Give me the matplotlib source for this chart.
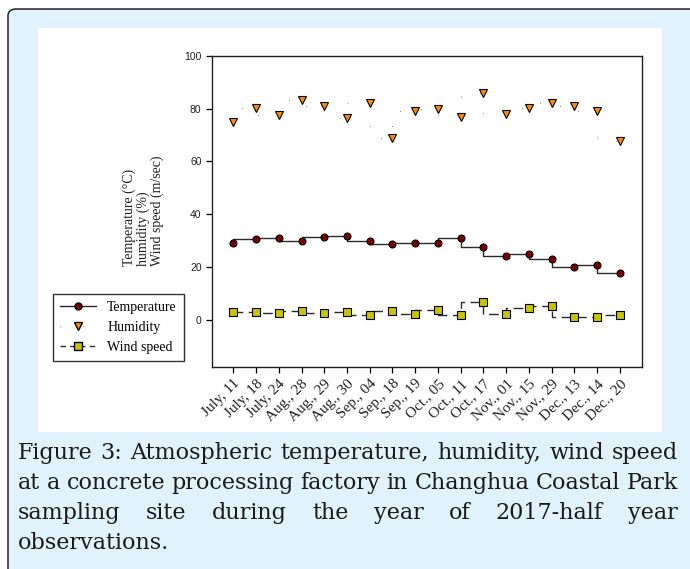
import matplotlib.pyplot as plt
from matplotlib.patches import FancyBboxPatch, Rectangle
from matplotlib.lines import Line2D

dates = ["July, 11", "July, 18", "July, 24", "Aug., 28", "Aug., 29", "Aug., 30",
         "Sep., 04", "Sep., 18", "Sep., 19", "Oct., 05", "Oct., 11", "Oct., 17",
         "Nov., 01", "Nov., 15", "Nov., 29", "Dec., 13", "Dec., 14", "Dec., 20"]
temperature = [29.1, 30.8, 31.1, 29.8, 31.4, 31.8, 30.0, 28.9, 29.1,
               29.1, 30.9, 27.5, 24.1, 24.8, 23.0, 20.2, 20.7, 17.9]
humidity = [74.8, 80.2, 77.6, 83.1, 81.1, 76.4, 82.0, 69.0, 79.0,
            79.8, 76.7, 86.0, 78.1, 80.2, 82.1, 81.1, 79.1, 67.7]
wind_speed = [2.9, 2.9, 2.5, 3.3, 2.6, 2.9, 2.0, 3.3, 2.1,
              3.7, 2.0, 6.6, 2.4, 4.4, 5.3, 1.1, 1.1, 2.0]
y_ticks = [0, 20, 40, 60, 80, 100]
caption_lines = [
    "Figure 3: Atmospheric temperature, humidity, wind speed",
    "at a concrete processing factory in Changhua Coastal Park",
    "sampling site during the year of 2017-half year",
    "observations.",
]

W, H = 690, 569
fig = plt.figure(figsize=(W / 100, H / 100), dpi=100)


def fx(px):
    return px / W


def fy(py):
    return 1 - py / H


# light blue card with rounded border, white panel for the chart
card = FancyBboxPatch((fx(8), fy(620)), fx(720), (620 - 9) / H,
                      boxstyle="round,pad=0,rounding_size=0.012",
                      transform=fig.transFigure, facecolor="#e0f2fc",
                      edgecolor="#333333", linewidth=1.2, zorder=0)
fig.patches.append(card)
panel = Rectangle((fx(38), fy(432)), fx(662 - 38), (432 - 28) / H,
                  transform=fig.transFigure, facecolor="white",
                  edgecolor="none", zorder=0.5)
fig.patches.append(panel)

ax = fig.add_axes([fx(212), fy(366.7), fx(642 - 212), (366.7 - 55.7) / H])
ax.set_zorder(2)
x = list(range(len(dates)))

ax.plot(x, temperature, drawstyle="steps-pre", color="#2b2b2b", lw=1)
ax.plot(x, temperature, "o", ms=5, mfc="#7a0000", mec="black", mew=0.8)

ax.plot(x, humidity, drawstyle="steps-pre", color="#555555", lw=0.8,
        linestyle=(0, (0.6, 20)))
ax.plot(x, humidity, "v", ms=5.5, mfc="#ff8c00", mec="black", mew=0.8)

ax.plot(x, wind_speed, drawstyle="steps-pre", color="#2b2b2b", lw=1,
        linestyle=(0, (7, 4)))
ax.plot(x, wind_speed, "s", ms=5.2, mfc="#c8c400", mec="black", mew=0.8)

ax.set_xlim(-0.94, 17.98)
ax.set_ylim(-17.7, 100)
ax.set_yticks(y_ticks)
ax.set_yticklabels([str(v) for v in y_ticks], family="Liberation Sans",
                   fontsize=7.5, color="#222222")
ax.set_xticks(x)
ax.set_xticklabels(dates, rotation=45, ha="right", rotation_mode="anchor",
                   family="Liberation Serif", fontsize=11, color="#222222")
ax.tick_params(direction="out", length=4, width=0.9)
for s in ax.spines.values():
    s.set_linewidth(1)
    s.set_color("#222222")

fig.text(fx(143), fy(211), "Temperature (°C)\nhumidity (%)\nWind speed (m/sec)",
         rotation=90, ha="center", va="center", multialignment="left",
         family="Liberation Serif", fontsize=10, linespacing=1.05,
         color="#222222", zorder=3)

handles = [
    Line2D([], [], color="#2b2b2b", lw=1, marker="o", ms=5,
           mfc="#7a0000", mec="black"),
    Line2D([], [], color="#555555", lw=0.8, linestyle=(0, (0.6, 20)),
           marker="v", ms=5.5, mfc="#ff8c00", mec="black"),
    Line2D([], [], color="#2b2b2b", lw=1, linestyle=(0, (4, 3)),
           marker="s", ms=5.2, mfc="#c8c400", mec="black"),
]
leg = fig.legend(handles, ["Temperature", "Humidity", "Wind speed"],
                 loc="upper left", bbox_to_anchor=(fx(53), fy(294)),
                 prop={"family": "Liberation Serif", "size": 10},
                 frameon=True, fancybox=False, edgecolor="black",
                 handlelength=2.6, handletextpad=0.8, borderpad=0.5,
                 labelspacing=0.5, borderaxespad=0)
leg.get_frame().set_linewidth(1)
leg.set_zorder(5)

# justified caption
renderer = fig.canvas.get_renderer()
left, right = 18, 678
for i, line in enumerate(caption_lines):
    words = line.split()
    yb = fy(459 + 30 * i)
    texts = [fig.text(0, yb, w, family="DejaVu Serif", fontsize=16,
                      va="baseline", ha="left", color="#1a1a1a")
             for w in words]
    widths = [t.get_window_extent(renderer).width for t in texts]
    if i < len(caption_lines) - 1 and len(words) > 1:
        gap = (right - left - sum(widths)) / (len(words) - 1)
    else:
        gap = 6
    xp = left
    for t, wd in zip(texts, widths):
        t.set_x(fx(xp))
        xp += wd + gap

fig.savefig("out.png", dpi=100)
